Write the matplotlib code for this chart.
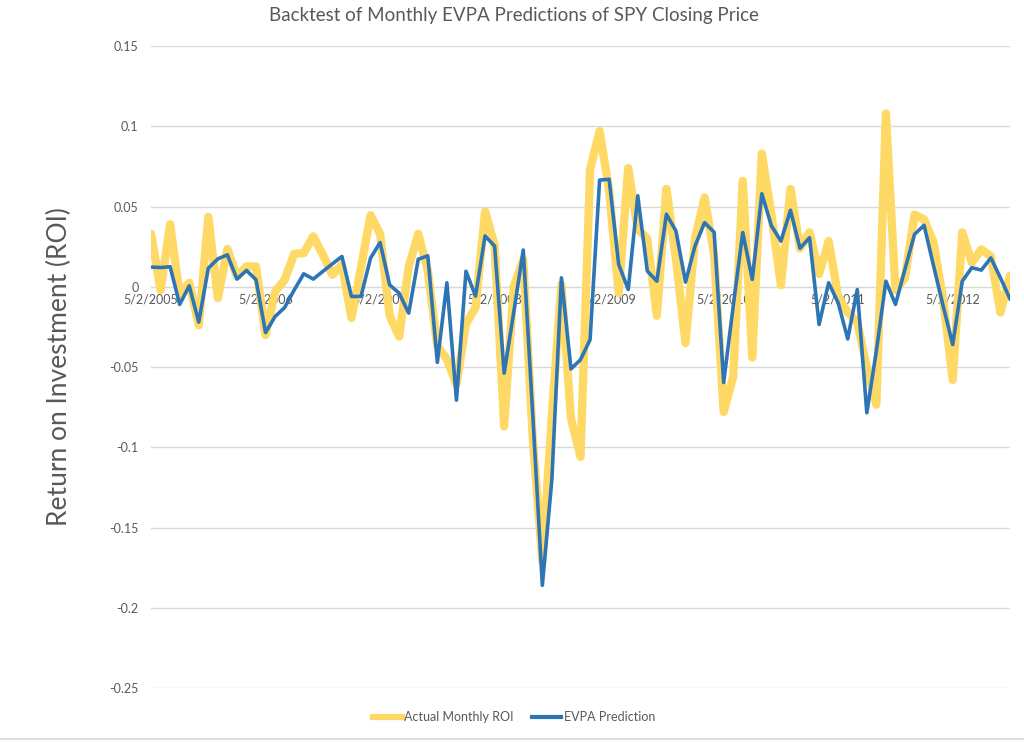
import matplotlib
matplotlib.use("Agg")
import matplotlib.pyplot as plt
from matplotlib.lines import Line2D

plt.rcParams["font.family"] = ["Lato", "DejaVu Sans"]

# monthly values, May 2005 .. Nov 2012
actual_roi = [
    0.033, -0.002, 0.039, -0.005, 0.0025, -0.024, 0.0436, -0.007, 0.0236, 0.0064,
    0.0127, 0.0127, -0.030, -0.003, 0.0044, 0.0206, 0.021, 0.0314, 0.020, 0.0075,
    0.0137, -0.0194, 0.012, 0.0446, 0.033, -0.018, -0.031, 0.0125, 0.033, 0.010,
    -0.037, -0.045, -0.061, -0.023, -0.013, 0.047, 0.026, -0.087, 0.000, 0.017,
    -0.095, -0.171, -0.080, 0.0015, -0.082, -0.106, 0.073, 0.097, 0.060, -0.004,
    0.074, 0.036, 0.030, -0.018, 0.061, 0.0175, -0.035, 0.030, 0.0556, 0.020,
    -0.078, -0.056, 0.066, -0.044, 0.083, 0.045, 0.001, 0.061, 0.024, 0.034,
    0.008, 0.0285, -0.006, -0.016, -0.022, -0.050, -0.0735, 0.108, -0.002, 0.0056,
    0.045, 0.042, 0.0275, -0.008, -0.058, 0.034, 0.015, 0.0233, 0.019, -0.016,
    0.007,
]
evpa_pred = [
    0.0123, 0.012, 0.0125, -0.011, 0.0006, -0.022, 0.0116, 0.0174, 0.0199, 0.0048,
    0.0102, 0.0044, -0.0285, -0.0185, -0.0129, -0.002, 0.0081, 0.0048, 0.0096, 0.0143,
    0.0189, -0.006, -0.006, 0.0179, 0.0276, 0.0012, -0.004, -0.0164, 0.0172, 0.0193,
    -0.0471, 0.0025, -0.0706, 0.0097, -0.0058, 0.0317, 0.0254, -0.0538, -0.016, 0.0229,
    -0.080, -0.186, -0.120, 0.0056, -0.0512, -0.0454, -0.033, 0.0665, 0.067, 0.014,
    -0.0017, 0.0567, 0.0098, 0.0035, 0.0452, 0.0348, 0.0029, 0.0254, 0.040, 0.034,
    -0.0596, -0.012, 0.0338, 0.0046, 0.058, 0.038, 0.0285, 0.0477, 0.024, 0.0306,
    -0.0235, 0.0025, -0.010, -0.0325, -0.0017, -0.0785, -0.040, 0.0035, -0.011, 0.011,
    0.0327, 0.0383, 0.0129, -0.012, -0.036, 0.0035, 0.0119, 0.0104, 0.018, 0.0056,
    -0.0075,
]
date_labels = ["5/2/2005", "5/2/2006", "5/2/2007", "5/2/2008",
               "5/2/2009", "5/2/2010", "5/2/2011", "5/2/2012"]
y_ticks = [-0.25, -0.2, -0.15, -0.1, -0.05, 0, 0.05, 0.1, 0.15]
y_labels = ["-0.25", "-0.2", "-0.15", "-0.1", "-0.05", "0", "0.05", "0.1", "0.15"]

gray = "#595959"
grid = "#d9d9d9"

fig = plt.figure(figsize=(10.24, 7.43), dpi=100)
ax = fig.add_axes([0.1475, 0.074, 0.8388, 0.864])

x = list(range(len(actual_roi)))
ax.plot(x, actual_roi, color="#FFD966", lw=6.0, solid_joinstyle="round",
        solid_capstyle="round", label="Actual Monthly ROI", zorder=3)
ax.plot(x, evpa_pred, color="#2E75B6", lw=2.6, solid_joinstyle="round",
        label="EVPA Prediction", zorder=4)

ax.set_xlim(0, len(x) - 1)
ax.set_ylim(-0.25, 0.15)
ax.set_yticks(y_ticks)
ax.set_yticklabels(y_labels)
ax.yaxis.grid(True, color=grid, lw=1)
ax.set_axisbelow(True)

# category axis crosses at 0
ax.spines["bottom"].set_position(("data", 0))
ax.spines["bottom"].set_color(grid)
for s in ["top", "right", "left"]:
    ax.spines[s].set_visible(False)
ax.set_xticks(list(range(0, len(x), 12)))
ax.set_xticklabels(date_labels)
ax.tick_params(axis="x", length=0, pad=5, labelsize=9, labelcolor=gray)
ax.tick_params(axis="y", length=0, pad=9, labelsize=9, labelcolor=gray)

ax.set_ylabel("Return on Investment (ROI)", fontsize=19, color=gray, labelpad=27)
fig.text(0.502, 0.979, "Backtest of Monthly EVPA Predictions of SPY Closing Price",
         ha="center", va="center", fontsize=13.5, color=gray)

handles = [Line2D([], [], color="#FFD966", lw=4.5), Line2D([], [], color="#2E75B6", lw=3)]
fig.legend(handles, ["Actual Monthly ROI", "EVPA Prediction"], loc="center",
           bbox_to_anchor=(0.502, 0.035), ncol=2, frameon=False, fontsize=9,
           labelcolor=gray, handlelength=2.3, handletextpad=0.2, columnspacing=1.5)

fig.add_artist(Line2D([0, 1], [0.005, 0.005], color=grid, lw=1.2,
                      transform=fig.transFigure))

fig.savefig("out.png", dpi=100)
